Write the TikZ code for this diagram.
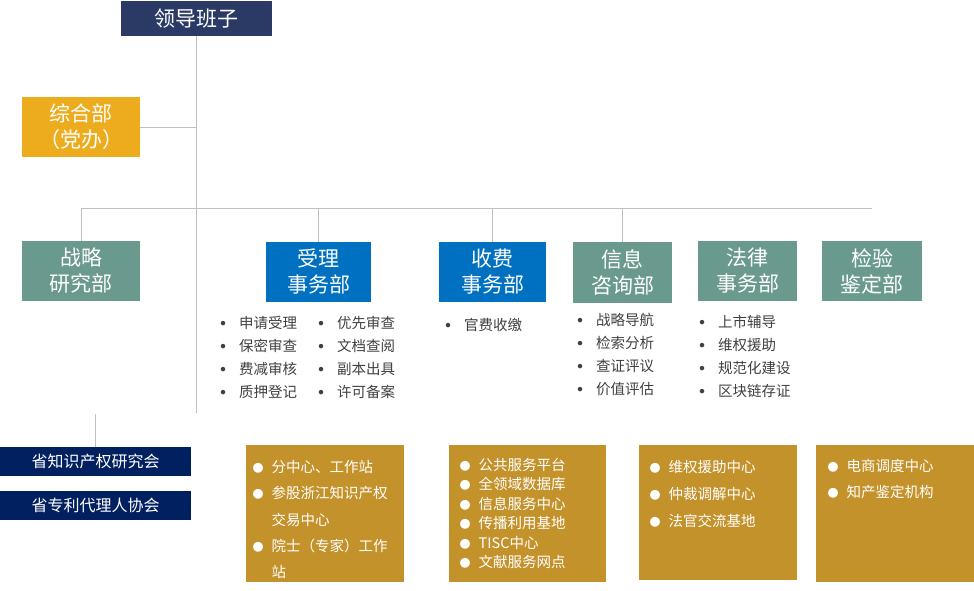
\documentclass[tikz,border=0pt]{standalone}
\usepackage{fontspec}
\setmainfont{Noto Sans CJK SC}
\usetikzlibrary{positioning}
\definecolor{LeadNavy}{HTML}{2A3A64}
\definecolor{OfficeGold}{HTML}{EDAC1D}
\definecolor{DeptTeal}{HTML}{6A9A8E}
\definecolor{DeptBlue}{HTML}{0070C0}
\definecolor{AssocNavy}{HTML}{002060}
\definecolor{CenterGold}{HTML}{C4922A}
\definecolor{LinkGrey}{HTML}{BFBFBF}
\definecolor{ListGrey}{HTML}{404040}
\newcommand{\dotitem}[1]{\makebox[16pt][l]{\makebox[0pt]{\raisebox{3pt}{\fontsize{5}{5}\selectfont ●}}}#1}
\newcommand{\balitem}[1]{\makebox[13.5pt][l]{\makebox[0pt]{\fontsize{11}{11}\selectfont ●}}#1}
\newcommand{\balcont}[1]{\hspace*{13.5pt}#1}

\begin{document}
\begin{tikzpicture}[
  x=1pt, y=-1pt,
  lead/.style={fill=LeadNavy, text=white, inner sep=0pt, font=\fontsize{21}{26}\selectfont},
  dept/.style={inner sep=0pt, minimum height=60pt, text=white, align=center,
               font=\fontsize{21}{26}\selectfont},
  tealdept/.style={dept, fill=DeptTeal},
  bluedept/.style={dept, fill=DeptBlue},
  assoc/.style={fill=AssocNavy, text=white, inner sep=0pt, minimum width=191pt,
                minimum height=29pt, font=\fontsize{16}{16}\selectfont},
  centerbox/.style={fill=CenterGold, anchor=north west, inner sep=0pt},
  duties/.style={anchor=north west, inner sep=0pt, align=left, text=ListGrey},
  centerlist/.style={anchor=north west, inner sep=0pt, align=left, text=white},
  link/.style={draw=LinkGrey, line width=1pt}
]
\useasboundingbox (0,0) rectangle (974,590);

% leadership and office
\node[lead, minimum width=151pt, minimum height=35pt] (lead) at (196.5,18.5) {领导班子};
\node[dept, fill=OfficeGold, minimum width=118pt] (zonghe) at (81,127) {综合部\\（党办）};

% departments
\node[tealdept, minimum width=118pt] (zhanlue) at (81,271) {战略\\研究部};
\node[bluedept, minimum width=105pt] (shouli) at (318.5,272) {受理\\事务部};
\node[bluedept, minimum width=107pt] (shoufei) at (492.5,272) {收费\\事务部};
\node[tealdept, minimum width=99pt, minimum height=61pt] (xinxi) at (622.5,272.5) {信息\\咨询部};
\node[tealdept, minimum width=99pt] (falv) at (747.5,271) {法律\\事务部};
\node[tealdept, minimum width=100pt] (jianyan) at (872,271) {检验\\鉴定部};

% duties under the departments
\node[duties, font=\fontsize{14.5}{23}\selectfont] (shouliA) at (223,316)
  {\dotitem{申请受理}\\\dotitem{保密审查}\\\dotitem{费减审核}\\\dotitem{质押登记}};
\node[duties, font=\fontsize{14.5}{23}\selectfont] (shouliB) at (321,316)
  {\dotitem{优先审查}\\\dotitem{文档查阅}\\\dotitem{副本出具}\\\dotitem{许可备案}};
\node[duties, font=\fontsize{14.5}{23}\selectfont] (shoufeiA) at (448,318)
  {\dotitem{官费收缴}};
\node[duties, font=\fontsize{14.5}{23}\selectfont] (xinxiA) at (580,313)
  {\dotitem{战略导航}\\\dotitem{检索分析}\\\dotitem{查证评议}\\\dotitem{价值评估}};
\node[duties, font=\fontsize{14.5}{23}\selectfont] (falvA) at (702,315)
  {\dotitem{上市辅导}\\\dotitem{维权援助}\\\dotitem{规范化建设}\\\dotitem{区块链存证}};

% associations
\node[assoc] (yanjiuhui) at (95.5,461.5) {省知识产权研究会};
\node[assoc] (daili) at (95.5,505.5) {省专利代理人协会};

% centres
\node[centerbox, minimum width=158pt, minimum height=137pt] (fenzhongxin) at (246,445) {};
\node[centerlist, font=\fontsize{14.5}{26.3}\selectfont] (fenzhongxinA)
  at ([shift={(12,15)}]fenzhongxin.north west)
  {\balitem{分中心、工作站}\\\balitem{参股浙江知识产权}\\\balcont{交易中心}\\\balitem{院士（专家）工作}\\\balcont{站}};
\node[centerbox, minimum width=157pt, minimum height=137pt] (pingtai) at (449,445) {};
\node[centerlist, font=\fontsize{14.5}{19.4}\selectfont] (pingtaiA)
  at ([shift={(16,13)}]pingtai.north west)
  {\balitem{公共服务平台}\\\balitem{全领域数据库}\\\balitem{信息服务中心}\\\balitem{传播利用基地}\\\balitem{TISC中心}\\\balitem{文献服务网点}};
\node[centerbox, minimum width=158pt, minimum height=135pt] (weiquan) at (639,445) {};
\node[centerlist, font=\fontsize{14.5}{27}\selectfont] (weiquanA)
  at ([shift={(16,15)}]weiquan.north west)
  {\balitem{维权援助中心}\\\balitem{仲裁调解中心}\\\balitem{法官交流基地}};
\node[centerbox, minimum width=158pt, minimum height=137pt] (diaodu) at (816,445) {};
\node[centerlist, font=\fontsize{14.5}{26}\selectfont] (diaoduA)
  at ([shift={(17,14)}]diaodu.north west)
  {\balitem{电商调度中心}\\\balitem{知产鉴定机构}};

% connectors
\coordinate (spine) at (196.5,413);
\coordinate (busL) at (81,208);
\coordinate (busR) at (872,208);
\coordinate (assocTop) at (94,414);
\draw[link] (lead.south) -- (spine);
\draw[link] (zonghe.east) -- (zonghe.east -| spine);
\draw[link] (busL) -- (busR);
\draw[link] (zhanlue.north) -- (zhanlue.north |- busL);
\draw[link] (shouli.north) -- (shouli.north |- busL);
\draw[link] (shoufei.north) -- (shoufei.north |- busL);
\draw[link] (xinxi.north) -- (xinxi.north |- busL);
\draw[link] (yanjiuhui.north) -- (yanjiuhui.north |- assocTop);
\end{tikzpicture}
\end{document}
